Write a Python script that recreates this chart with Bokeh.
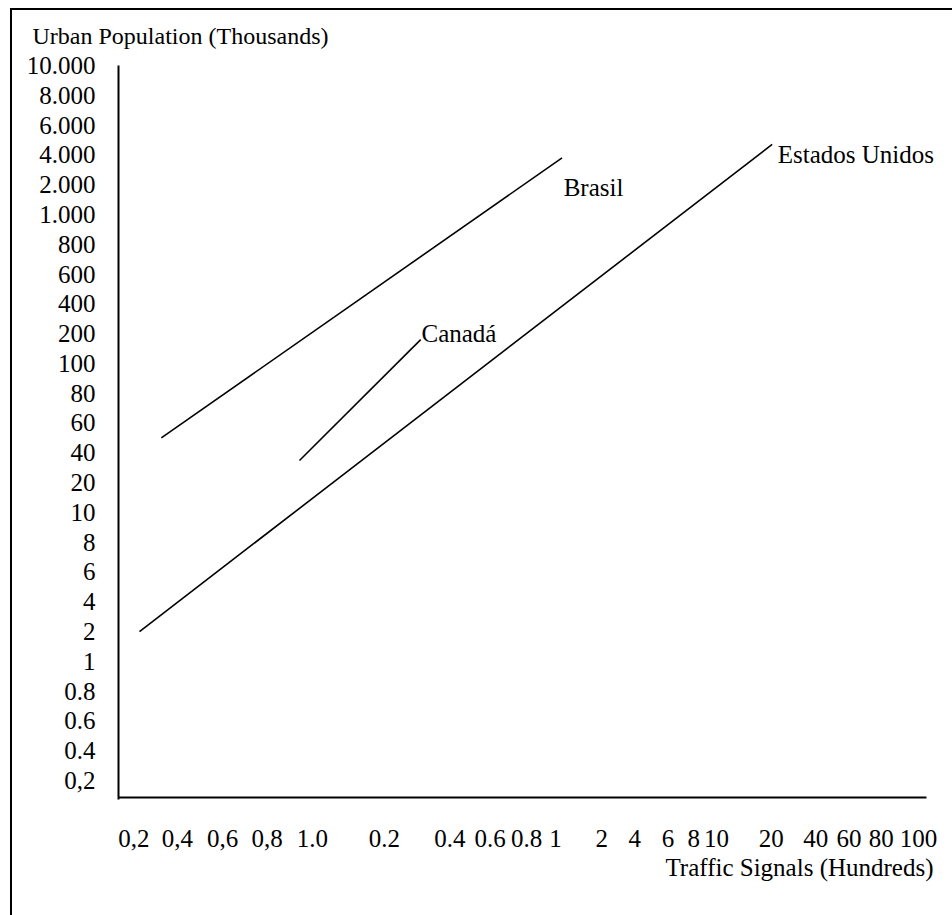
from bokeh.plotting import figure
from bokeh.models import Range1d, FixedTicker, Label, Title
from bokeh.embed import file_html
from bokeh.resources import INLINE

# ---- data ----
# y axis: evenly spaced tick slots (index 0 = bottom)
y_labels = ["0,2", "0.4", "0.6", "0.8", "1", "2", "4", "6", "8", "10", "20", "40",
            "60", "80", "100", "200", "400", "600", "800", "1.000", "2.000",
            "4.000", "6.000", "8.000", "10.000"]
# x axis: irregularly placed ticks (position on a 0-100 axis) and their labels
x_ticks = [1.9, 7.3, 12.9, 18.4, 24.0, 32.9, 41.0, 46.0, 50.5, 54.1,
           59.8, 63.9, 68.0, 71.2, 74.0, 80.8, 86.3, 90.4, 94.4, 99.0]
x_labels = ["0,2", "0,4", "0,6", "0,8", "1.0", "0.2", "0.4", "0.6", "0.8", "1",
            "2", "4", "6", "8", "10", "20", "40", "60", "80", "100"]

# series (x on tick axis, y on tick-slot axis)
brasil_x = [5.3, 54.9]
brasil_y = [11.5, 20.9]
canada_x = [22.4, 37.4]
canada_y = [10.74, 14.8]
usa_x = [2.6, 80.9]
usa_y = [5.0, 21.35]

series_names = ["Brasil", "Canadá", "Estados Unidos"]
name_x = [55.1, 37.5, 81.6]
name_y = [19.9, 15.0, 21.02]

# axis extent
x_axis_start, x_axis_end = 0, 100
y_axis_base = -0.571

FONT = "Liberation Serif"
FS = "25px"

p = figure(width=952, height=915, output_backend="svg", toolbar_location=None,
           title=None, x_range=Range1d(0, 102.48), y_range=Range1d(-0.638, 24.0),
           min_border_left=118, min_border_right=6, min_border_top=65,
           min_border_bottom=116)
p.outline_line_color = None
p.grid.visible = False
p.background_fill_color = None
p.border_fill_color = None
# outer frame of the page (cut by the window at right and bottom)
p.styles = {
    "background-color": "white",
    "background-image": "linear-gradient(black, black), linear-gradient(black, black)",
    "background-repeat": "no-repeat",
    "background-position": "10px 8px, 10px 8px",
    "background-size": "2px 100%, 100% 2px",
}

# x axis
xa = p.xaxis[0]
xa.ticker = FixedTicker(ticks=x_ticks)
xa.major_label_overrides = {t: l for t, l in zip(x_ticks, x_labels)}
xa.minor_tick_line_color = None
xa.major_tick_line_color = None
xa.major_tick_out = 0
xa.major_tick_in = 0
xa.axis_line_color = None
xa.major_label_standoff = 30
xa.major_label_text_font = FONT
xa.major_label_text_font_size = FS
xa.major_label_text_color = "black"
# x axis line (shorter than the frame, so that the US label is not cut)
p.segment(x0=[x_axis_start], y0=[y_axis_base], x1=[x_axis_end], y1=[y_axis_base],
          line_color="black", line_width=2)

# y axis
ya = p.yaxis[0]
y_idx = list(range(len(y_labels)))
ya.ticker = FixedTicker(ticks=y_idx)
ya.major_label_overrides = {i: l for i, l in zip(y_idx, y_labels)}
ya.minor_tick_line_color = None
ya.major_tick_line_color = None
ya.major_tick_out = 0
ya.major_tick_in = 0
ya.axis_line_width = 2
ya.axis_line_color = "black"
ya.major_label_standoff = 23
ya.major_label_text_font = FONT
ya.major_label_text_font_size = FS
ya.major_label_text_color = "black"

# series lines
for xs, ys in [(brasil_x, brasil_y), (canada_x, canada_y), (usa_x, usa_y)]:
    p.line(xs, ys, line_color="black", line_width=1.6)

for name, nx, ny in zip(series_names, name_x, name_y):
    p.add_layout(Label(x=nx, y=ny, text=name, text_font=FONT, text_font_size=FS,
                       text_color="black", text_baseline="alphabetic",
                       text_align="left"))

# axis titles
p.add_layout(Title(text="Urban Population (Thousands)", align="left", offset=-86,
                   standoff=34, text_font=FONT, text_font_size="24px",
                   text_font_style="normal", text_color="black"), "above")
p.add_layout(Title(text="Traffic Signals (Hundreds)", align="right", offset=13,
                   standoff=5, text_font=FONT, text_font_size=FS,
                   text_font_style="normal", text_color="black"), "below")

open("out.html", "w").write(file_html(p, INLINE))
